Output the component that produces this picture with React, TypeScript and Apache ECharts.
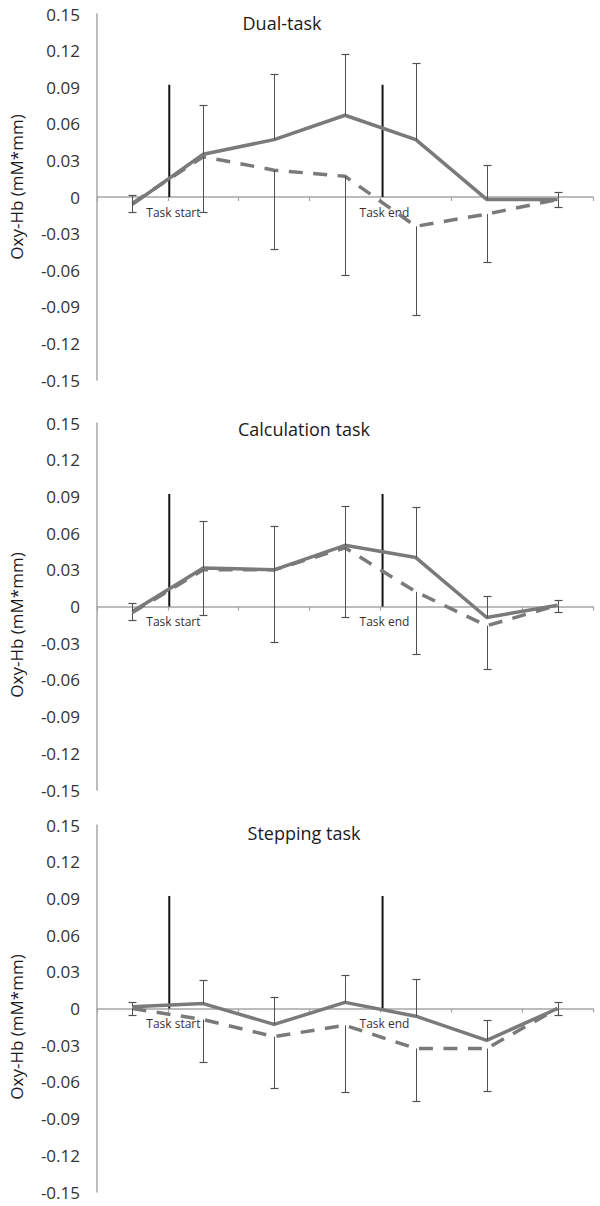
import React, { useEffect, useRef } from 'react';
import * as echarts from 'echarts';

// Seven unlabelled measurement windows per panel
const timePoints = ['t1', 't2', 't3', 't4', 't5', 't6', 't7'];
const panelTitles = ['Dual-task', 'Calculation task', 'Stepping task'];
const yAxisName = 'Oxy-Hb (mM*mm)';
const yMin = -0.15;
const yMax = 0.15;
const yInterval = 0.03;

// Task markers (x in category-width units from the y axis)
const taskMarks = [1.02, 4.03];
const taskMarkTop = 0.092;
const taskLabels = ['Task start', 'Task end'];

// Dual-task
const dualSolid = [-0.006, 0.035, 0.047, 0.067, 0.047, -0.002, -0.002];
const dualSolidSD = [0.008, 0.040, 0.054, 0.050, 0.063, 0.028, 0.0065];
const dualDashed = [-0.005, 0.033, 0.022, 0.017, -0.024, -0.014, -0.002];
const dualDashedSD = [0.007, 0.045, 0.065, 0.081, 0.073, 0.039, 0.006];

// Calculation task
const calcSolid = [-0.004, 0.0315, 0.030, 0.050, 0.040, -0.009, 0.001];
const calcSolidSD = [0.007, 0.0385, 0.036, 0.032, 0.0416, 0.0176, 0.0043];
const calcDashed = [-0.005, 0.030, 0.030, 0.048, 0.012, -0.0157, 0.001];
const calcDashedSD = [0.006, 0.037, 0.059, 0.0566, 0.051, 0.0353, 0.0055];

// Stepping task
const stepSolid = [0.0015, 0.004, -0.013, 0.005, -0.0063, -0.026, 0.0];
const stepSolidSD = [0.0035, 0.019, 0.022, 0.022, 0.0308, 0.017, 0.005];
const stepDashed = [0.0, -0.009, -0.023, -0.0137, -0.0327, -0.0327, 0.0];
const stepDashedSD = [0.0055, 0.035, 0.042, 0.0543, 0.0433, 0.0349, 0.0055];

const panels = [
  { solid: dualSolid, solidSD: dualSolidSD, dashed: dualDashed, dashedSD: dualDashedSD },
  { solid: calcSolid, solidSD: calcSolidSD, dashed: calcDashed, dashedSD: calcDashedSD },
  { solid: stepSolid, solidSD: stepSolidSD, dashed: stepDashed, dashedSD: stepDashedSD },
];

// Layout
const gridTops = [14, 423, 825];
const gridHeights = [366, 367, 367];
const titlePos = [
  [282, 23],
  [304, 429],
  [304, 833],
];
const yNamePos = [
  [16, 187],
  [16, 625],
  [16, 1027],
];

const FONT = '"Open Sans", "Noto Sans", sans-serif';
const LINE_COLOR = '#7a7a7a';
const BAR_COLOR = '#505050';
const AXIS_COLOR = '#a6a6a6';

function errorBarRender(params: any, api: any) {
  const x = api.value(0);
  const y0 = api.value(1);
  const y1 = api.value(2);
  const p0 = api.coord([x, y0]);
  const p1 = api.coord([x, y1]);
  const px = Math.round(p0[0]) + 0.5;
  const py1 = Math.round(p1[1]) + 0.5;
  return {
    type: 'group',
    children: [
      {
        type: 'line',
        shape: { x1: px, y1: p0[1], x2: px, y2: py1 },
        style: { stroke: BAR_COLOR, lineWidth: 1 },
      },
      {
        type: 'line',
        shape: { x1: px - 4, y1: py1, x2: px + 4, y2: py1 },
        style: { stroke: BAR_COLOR, lineWidth: 1.2 },
      },
    ],
  };
}

function taskRender(params: any, api: any) {
  const x = api.value(0);
  const p0 = api.coord([x, api.value(1)]);
  const p1 = api.coord([x, api.value(2)]);
  return {
    type: 'group',
    children: [
      {
        type: 'line',
        shape: { x1: p0[0], y1: p0[1], x2: p1[0], y2: p1[1] },
        style: { stroke: '#111111', lineWidth: 2 },
      },
      {
        type: 'text',
        style: {
          text: taskLabels[params.dataIndex],
          x: p0[0] - 23,
          y: p0[1] + 15,
          fill: '#333333',
          fontSize: 12,
          fontFamily: FONT,
          align: 'left',
          verticalAlign: 'middle',
        },
      },
    ],
  };
}

export default function App() {
  const ref = useRef<HTMLDivElement>(null);

  useEffect(() => {
    if (!ref.current) return;
    const chart = echarts.init(ref.current, undefined, { renderer: 'svg' });
    const n = timePoints.length;

    const grid: any[] = [];
    const xAxis: any[] = [];
    const yAxis: any[] = [];
    const series: any[] = [];
    const graphic: any[] = [];

    panels.forEach((p, k) => {
      grid.push({ left: 97, right: 7, top: gridTops[k], height: gridHeights[k] });
      xAxis.push({
        gridIndex: k,
        type: 'value',
        min: 0,
        max: n,
        interval: 1,
        axisLine: { show: true, onZero: true, lineStyle: { color: AXIS_COLOR, width: 1.5 } },
        axisTick: { show: true, length: 4, lineStyle: { color: AXIS_COLOR, width: 1.2 } },
        axisLabel: { show: false },
        splitLine: { show: false },
      });
      yAxis.push({
        gridIndex: k,
        type: 'value',
        min: yMin,
        max: yMax,
        interval: yInterval,
        axisLine: { show: true, lineStyle: { color: AXIS_COLOR, width: 1.5 } },
        axisTick: { show: false },
        splitLine: { show: false },
        axisLabel: {
          margin: 17,
          fontSize: 17,
          fontFamily: FONT,
          color: '#333333',
          formatter: (v: number) => (Math.abs(v) < 1e-9 ? '0' : v.toFixed(2)),
        },
      });

      series.push({
        type: 'custom',
        xAxisIndex: k,
        yAxisIndex: k,
        z: 1,
        renderItem: taskRender,
        encode: { x: 0, y: [1, 2] },
        data: taskMarks.map((x) => [x, 0, taskMarkTop]),
      });
      series.push({
        type: 'line',
        xAxisIndex: k,
        yAxisIndex: k,
        z: 3,
        symbol: 'none',
        lineStyle: { color: LINE_COLOR, width: 3.5, type: [14, 10.5], cap: 'butt' },
        data: p.dashed.map((v, i) => [i + 0.5, v]),
      });
      series.push({
        type: 'line',
        xAxisIndex: k,
        yAxisIndex: k,
        z: 3,
        symbol: 'none',
        lineStyle: { color: LINE_COLOR, width: 3.5 },
        data: p.solid.map((v, i) => [i + 0.5, v]),
      });
      series.push({
        type: 'custom',
        xAxisIndex: k,
        yAxisIndex: k,
        z: 4,
        renderItem: errorBarRender,
        encode: { x: 0, y: [1, 2] },
        data: p.solid.map((v, i) => [i + 0.5, v, v + p.solidSD[i]]),
      });
      series.push({
        type: 'custom',
        xAxisIndex: k,
        yAxisIndex: k,
        z: 4,
        renderItem: errorBarRender,
        encode: { x: 0, y: [1, 2] },
        data: p.dashed.map((v, i) => [i + 0.5, v, v - p.dashedSD[i]]),
      });

      graphic.push({
        type: 'text',
        x: titlePos[k][0],
        y: titlePos[k][1],
        style: {
          text: panelTitles[k],
          fill: '#1a1a1a',
          fontSize: 18,
          fontFamily: FONT,
          align: 'center',
          verticalAlign: 'middle',
        },
      });
      graphic.push({
        type: 'text',
        x: yNamePos[k][0],
        y: yNamePos[k][1],
        rotation: Math.PI / 2,
        style: {
          text: yAxisName,
          fill: '#1a1a1a',
          fontSize: 17,
          fontFamily: FONT,
          align: 'center',
          verticalAlign: 'middle',
        },
      });
    });

    chart.setOption({
      animation: false,
      backgroundColor: '#ffffff',
      grid,
      xAxis,
      yAxis,
      series,
      graphic,
    });

    return () => chart.dispose();
  }, []);

  return (
    <div
      ref={ref}
      style={{ position: 'absolute', left: 0, top: 0, width: 600, height: 1206 }}
    />
  );
}
